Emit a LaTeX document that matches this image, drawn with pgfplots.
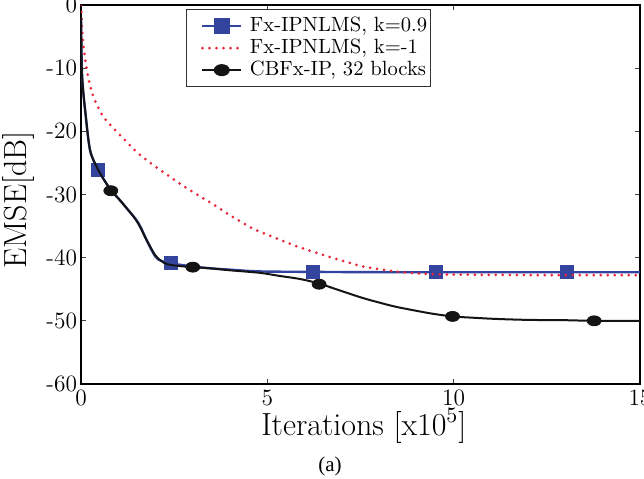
\documentclass[border=0pt]{standalone}
\usepackage{fontspec}
\usepackage{pgfplots}
\pgfplotsset{compat=1.18}
\newfontfamily\capfont{Liberation Serif}
\definecolor{ipblue}{RGB}{51,68,158}
\definecolor{ipred}{RGB}{232,38,58}
\definecolor{ipblack}{RGB}{20,20,20}
\begin{document}
\begin{tikzpicture}
\useasboundingbox (-40.5pt,-47pt) rectangle (281.5pt,192pt);
\begin{axis}[
  scale only axis,
  clip mode=individual,
  width=279.5pt, height=189.5pt,
  xmin=0, xmax=15, ymin=-60, ymax=0,
  xtick={0,5,10,15},
  ytick={-60,-50,-40,-30,-20,-10,0},
  yticklabels={-60,-50,-40,-30,-20,-10,0},
  xticklabels={0,5,10,15},
  tick align=inside,
  major tick length=2.5pt,
  tick style={black!75, line width=0.6pt},
  axis line style={black, line width=0.9pt},
  ticklabel style={font=\fontsize{11.7}{13}\selectfont},
  xticklabel style={inner sep=0pt, yshift=-3pt},
  yticklabel style={inner sep=0pt, xshift=-1.8pt},
  xlabel={Iterations [x10$^5$]},
  ylabel={EMSE[dB]},
  label style={font=\fontsize{16}{18}\selectfont},
  xlabel style={at={(axis description cs:0.506,-0.1346)}, anchor=base},
  ylabel style={at={(axis description cs:-0.0966,0.4855)}, anchor=base},
  legend style={at={(axis description cs:0.1878,0.9894)}, anchor=north west,
    font=\fontsize{10.3}{12}\selectfont, draw=black!80, line width=0.5pt,
    nodes={inner sep=0.75pt, text height=7.3pt, text depth=2.2pt}, inner xsep=1pt, inner ysep=2.8pt,
    legend cell align=left},
  legend image code/.code={\path[draw=none, fill=none] (-7pt,-0.1pt) rectangle (23pt,0.1pt);
    \draw[mark repeat=2,mark phase=2,#1] plot coordinates {(0pt,0pt) (9.65pt,0pt) (19.3pt,0pt)};},
]
% Fx-IPNLMS, k=0.9 (line)
\addplot[ipblue, line width=1.2pt, smooth, tension=0.5, forget plot] coordinates {
(0,-2) (0.02,-9.8) (0.05,-13) (0.11,-16.6) (0.24,-22.9) (0.456,-26.1) (0.6,-27.5)
(0.8,-29.3) (1.0,-30.6) (1.23,-32.2) (1.54,-34.5) (1.76,-37.2) (1.99,-39.8)
(2.15,-40.5) (2.41,-40.9) (3.0,-41.4) (3.5,-41.7) (4.0,-41.9) (4.5,-42.1)
(5.0,-42.2) (6.22,-42.25) (8,-42.3) (10,-42.3) (12,-42.3) (15,-42.3)};
\addplot[ipblue, only marks, mark=square*, mark size=3.3pt, forget plot] coordinates {
(0.456,-26.1) (2.41,-40.8) (6.22,-42.2) (9.52,-42.2) (13.04,-42.2)};
\addlegendimage{ipblue, line width=1.2pt, mark=square*, mark size=3.3pt}
\addlegendentry{Fx-IPNLMS, k=0.9}
% Fx-IPNLMS, k=-1
\addplot[ipred, line width=1.5pt, line cap=round, dash pattern=on 0pt off 3.5pt, smooth, tension=0.4] coordinates {
(0,0) (0.035,-4.5) (0.107,-8.4) (0.2,-11.6) (0.33,-14.5) (0.6,-17.7) (1.0,-20.3)
(1.54,-23.5) (2.12,-26.1) (2.84,-29.0) (3.64,-31.9) (4.0,-33.3) (4.58,-35.3)
(4.89,-36.1) (5.79,-38.2) (6.68,-39.9) (7.57,-41.4) (8.47,-42.2) (9.36,-42.6)
(10.5,-42.7) (12,-42.75) (15,-42.75)};
\addlegendentry{Fx-IPNLMS, k=-1}
% CBFx-IP, 32 blocks
\addplot[ipblack, line width=1pt, smooth, tension=0.5, forget plot] coordinates {
(0,-2) (0.02,-9.8) (0.05,-13) (0.11,-16.6) (0.24,-22.9) (0.42,-25.6) (0.6,-27.5)
(0.8,-29.3) (1.0,-30.6) (1.23,-32.2) (1.45,-33.8) (1.6,-35.3) (1.76,-37.2) (1.99,-39.6)
(2.15,-40.5) (2.3,-41.0) (2.6,-41.3) (3.0,-41.5) (3.5,-41.7) (4.0,-42.0)
(4.8,-42.4) (5.34,-42.9) (5.9,-43.4) (6.39,-44.1) (7.0,-45.3) (7.57,-46.4)
(8.0,-47.1) (8.47,-47.8) (9.36,-48.8) (9.97,-49.3) (10.5,-49.5) (11.15,-49.7)
(12,-49.85) (13,-49.9) (13.77,-50.0) (15,-50.0)};
\addplot[ipblack, only marks, mark=*, mark size=2.5pt, mark options={xscale=1.4}, forget plot] coordinates {
(0.8,-29.4) (3.0,-41.5) (6.39,-44.2) (9.97,-49.3) (13.77,-50.0)};
\addlegendimage{ipblack, line width=1pt, mark=*, mark size=2.5pt, mark options={xscale=1.4}}
\addlegendentry{CBFx-IP, 32 blocks}
\node[font=\capfont\fontsize{10.5}{12}\selectfont, anchor=base] at (axis description cs:0.4454,-0.2296) {(a)};
\end{axis}
\end{tikzpicture}
\end{document}
